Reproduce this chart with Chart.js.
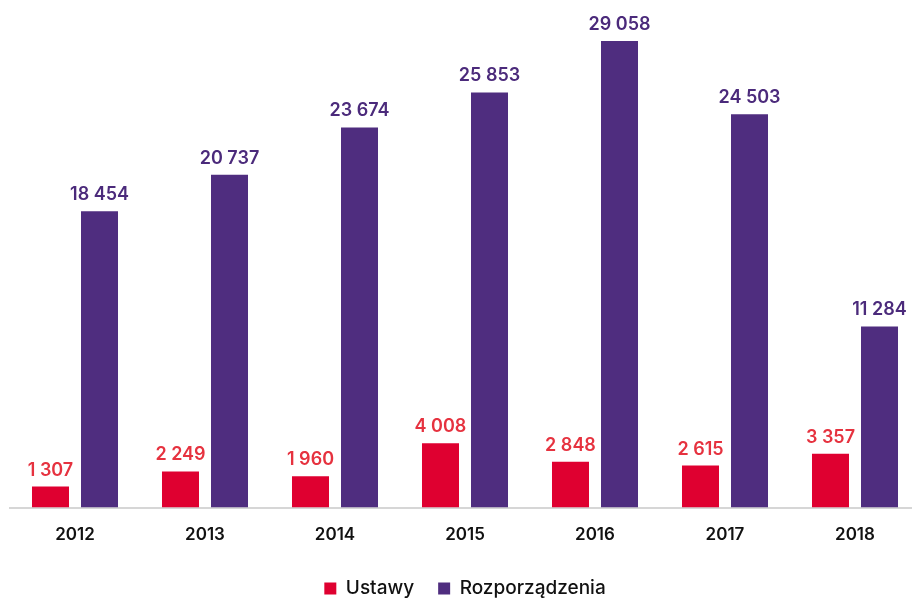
<!DOCTYPE html>
<html>
<head>
<meta charset="utf-8">
<script src="https://cdn.jsdelivr.net/npm/chart.js@4/dist/chart.umd.min.js"></script>
<style>
    html, body { margin: 0; padding: 0; background: #fff; overflow: hidden; }
    #wrap { width: 920px; height: 608px; position: relative; }
</style>
</head>
<body>
<div id="wrap"><canvas id="chart"></canvas></div>
<script>
const years = ['2012', '2013', '2014', '2015', '2016', '2017', '2018'];
const ustawy = [1307, 2249, 1960, 4008, 2848, 2615, 3357];
const rozporzadzenia = [18454, 20737, 23674, 25853, 29058, 24503, 11284];
const labelColors = ['#e6323f', '#4b2a7b'];

const fmt = (v) => String(v).replace(/\B(?=(\d{3})+(?!\d))/g, ' ');

// draws the value above each bar
const valueLabels = {
    id: 'valueLabels',
    afterDatasetsDraw(chart) {
        const ctx = chart.ctx;
        ctx.save();
        ctx.font = '600 18px Inter';
        ctx.textAlign = 'center';
        ctx.textBaseline = 'alphabetic';
        chart.data.datasets.forEach((ds, i) => {
            ctx.fillStyle = labelColors[i];
            chart.getDatasetMeta(i).data.forEach((bar, j) => {
                ctx.fillText(fmt(ds.data[j]), bar.x, bar.y - 11);
            });
        });
        ctx.restore();
    }
};

new Chart(document.getElementById('chart'), {
    type: 'bar',
    data: {
        labels: years,
        datasets: [
            { label: 'Ustawy', data: ustawy, backgroundColor: '#df0030' },
            { label: 'Rozporządzenia', data: rozporzadzenia, backgroundColor: '#4f2d7f' },
        ]
    },
    options: {
        responsive: true,
        maintainAspectRatio: false,
        animation: false,
        categoryPercentage: 0.754,
        barPercentage: 0.755,
        layout: { padding: { left: 10, right: 0, top: 0, bottom: 0 } },
        plugins: {
            legend: {
                position: 'bottom',
                labels: { boxWidth: 12, boxHeight: 12, padding: 24, color: '#111', font: { family: 'Inter', size: 19, weight: 500 } }
            },
            tooltip: { enabled: false },
        },
        scales: {
            x: {
                grid: { display: false },
                border: { display: true, color: '#d6d6d6', width: 2 },
                ticks: { color: '#111', padding: 9, font: { family: 'Inter', size: 17, weight: 600 } },
                afterFit: (axis) => { axis.height += 1; }
            },
            y: { display: false, min: 0, max: 31614 }
        }
    },
    plugins: [valueLabels]
});
</script>
</body>
</html>
